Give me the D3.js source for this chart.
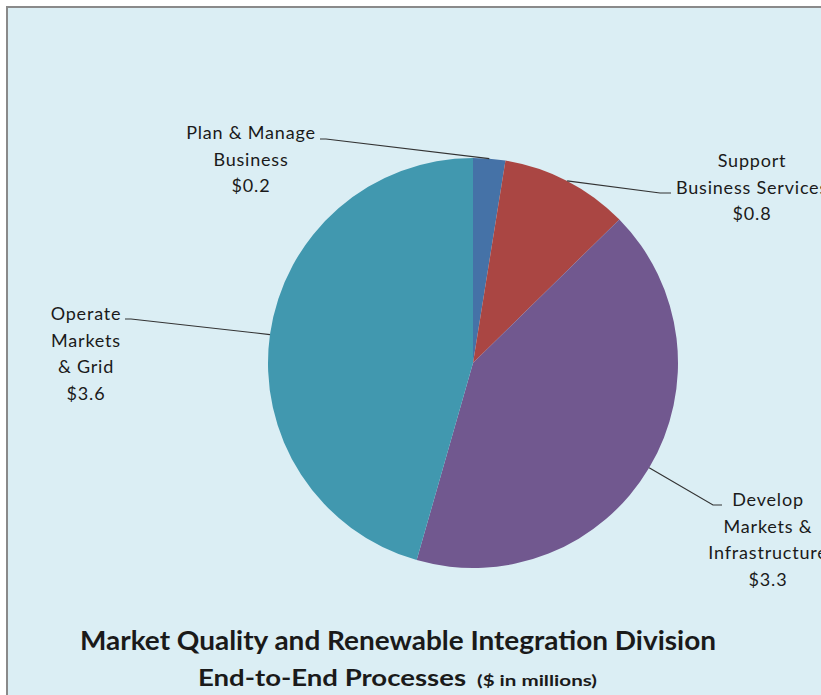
<!DOCTYPE html>
<html>
<head>
<meta charset="utf-8">
<script src="https://cdn.jsdelivr.net/npm/d3@7"></script>
<style>
  body { margin: 0; background: #fff; }
  svg text { font-family: Lato, "Open Sans", sans-serif; fill: #1a1a1a; }
</style>
</head>
<body>
<div id="chart"></div>
<script>
// data
const categories = ['Plan & Manage Business', 'Support Business Services', 'Develop Markets & Infrastructure', 'Operate Markets & Grid'];
const values = [0.2, 0.8, 3.3, 3.6];
const labelLines = [
  ['Plan & Manage', 'Business', '$0.2'],
  ['Support', 'Business Services', '$0.8'],
  ['Develop', 'Markets &', 'Infrastructure', '$3.3'],
  ['Operate', 'Markets', '& Grid', '$3.6']
];
const colors = ['#4572A7', '#AA4643', '#71588F', '#4198AF'];

const width = 821, height = 695;
const cx = 473, cy = 363, radius = 205;

// label anchor spots (text center x, first baseline y) and the elbow of the leader
const labelPos = [
  { x: 251, y: 139, elbow: [326, 139], end: [320, 139] },
  { x: 752, y: 167, elbow: [660, 193], end: [671, 193] },
  { x: 768, y: 506, elbow: [713, 505], end: [722, 505] },
  { x: 86, y: 320, elbow: [131, 319], end: [125, 319] }
];

const svg = d3.select('#chart').append('svg')
  .attr('width', width)
  .attr('height', height);

// chart frame
svg.append('rect')
  .attr('x', 7).attr('y', 7)
  .attr('width', 840).attr('height', 720)
  .attr('fill', '#DBEEF4')
  .attr('stroke', '#8a8a8a')
  .attr('stroke-width', 2);

const pie = d3.pie().sort(null).value(d => d);
const arcs = pie(values);
const arc = d3.arc().innerRadius(0).outerRadius(radius);

const g = svg.append('g').attr('transform', `translate(${cx},${cy})`);

g.selectAll('path.slice')
  .data(arcs)
  .enter().append('path')
  .attr('class', 'slice')
  .attr('d', arc)
  .attr('fill', (d, i) => colors[i])
  .attr('stroke', 'none');

// leader lines from slice midpoint on the rim
svg.selectAll('polyline.leader')
  .data(arcs)
  .enter().append('polyline')
  .attr('class', 'leader')
  .attr('fill', 'none')
  .attr('stroke', '#333')
  .attr('stroke-width', 1.2)
  .attr('points', (d, i) => {
    const a = (d.startAngle + d.endAngle) / 2;
    const p = [cx + radius * Math.sin(a), cy - radius * Math.cos(a)];
    const lp = labelPos[i];
    return [p, lp.elbow, lp.end].map(q => q.join(',')).join(' ');
  });

// labels
arcs.forEach((d, i) => {
  const t = svg.append('text')
    .attr('text-anchor', 'middle')
    .attr('font-size', 18)
    .attr('letter-spacing', 0.8);
  labelLines[i].forEach((line, j) => {
    t.append('tspan')
      .attr('x', labelPos[i].x)
      .attr('y', labelPos[i].y + j * 26.5)
      .text(line);
  });
});

// title
svg.append('text')
  .attr('x', 398).attr('y', 650)
  .attr('text-anchor', 'middle')
  .attr('font-size', 26)
  .attr('font-weight', 'bold')
  .attr('textLength', 636)
  .attr('lengthAdjust', 'spacingAndGlyphs')
  .text('Market Quality and Renewable Integration Division');

svg.append('text')
  .attr('x', 198).attr('y', 686)
  .attr('font-size', 23)
  .attr('font-weight', 'bold')
  .attr('textLength', 268)
  .attr('lengthAdjust', 'spacingAndGlyphs')
  .text('End-to-End Processes');

svg.append('text')
  .attr('x', 477).attr('y', 686)
  .attr('font-size', 16)
  .attr('font-weight', 'bold')
  .attr('textLength', 120)
  .attr('lengthAdjust', 'spacingAndGlyphs')
  .text('($ in millions)');
</script>
</body>
</html>
